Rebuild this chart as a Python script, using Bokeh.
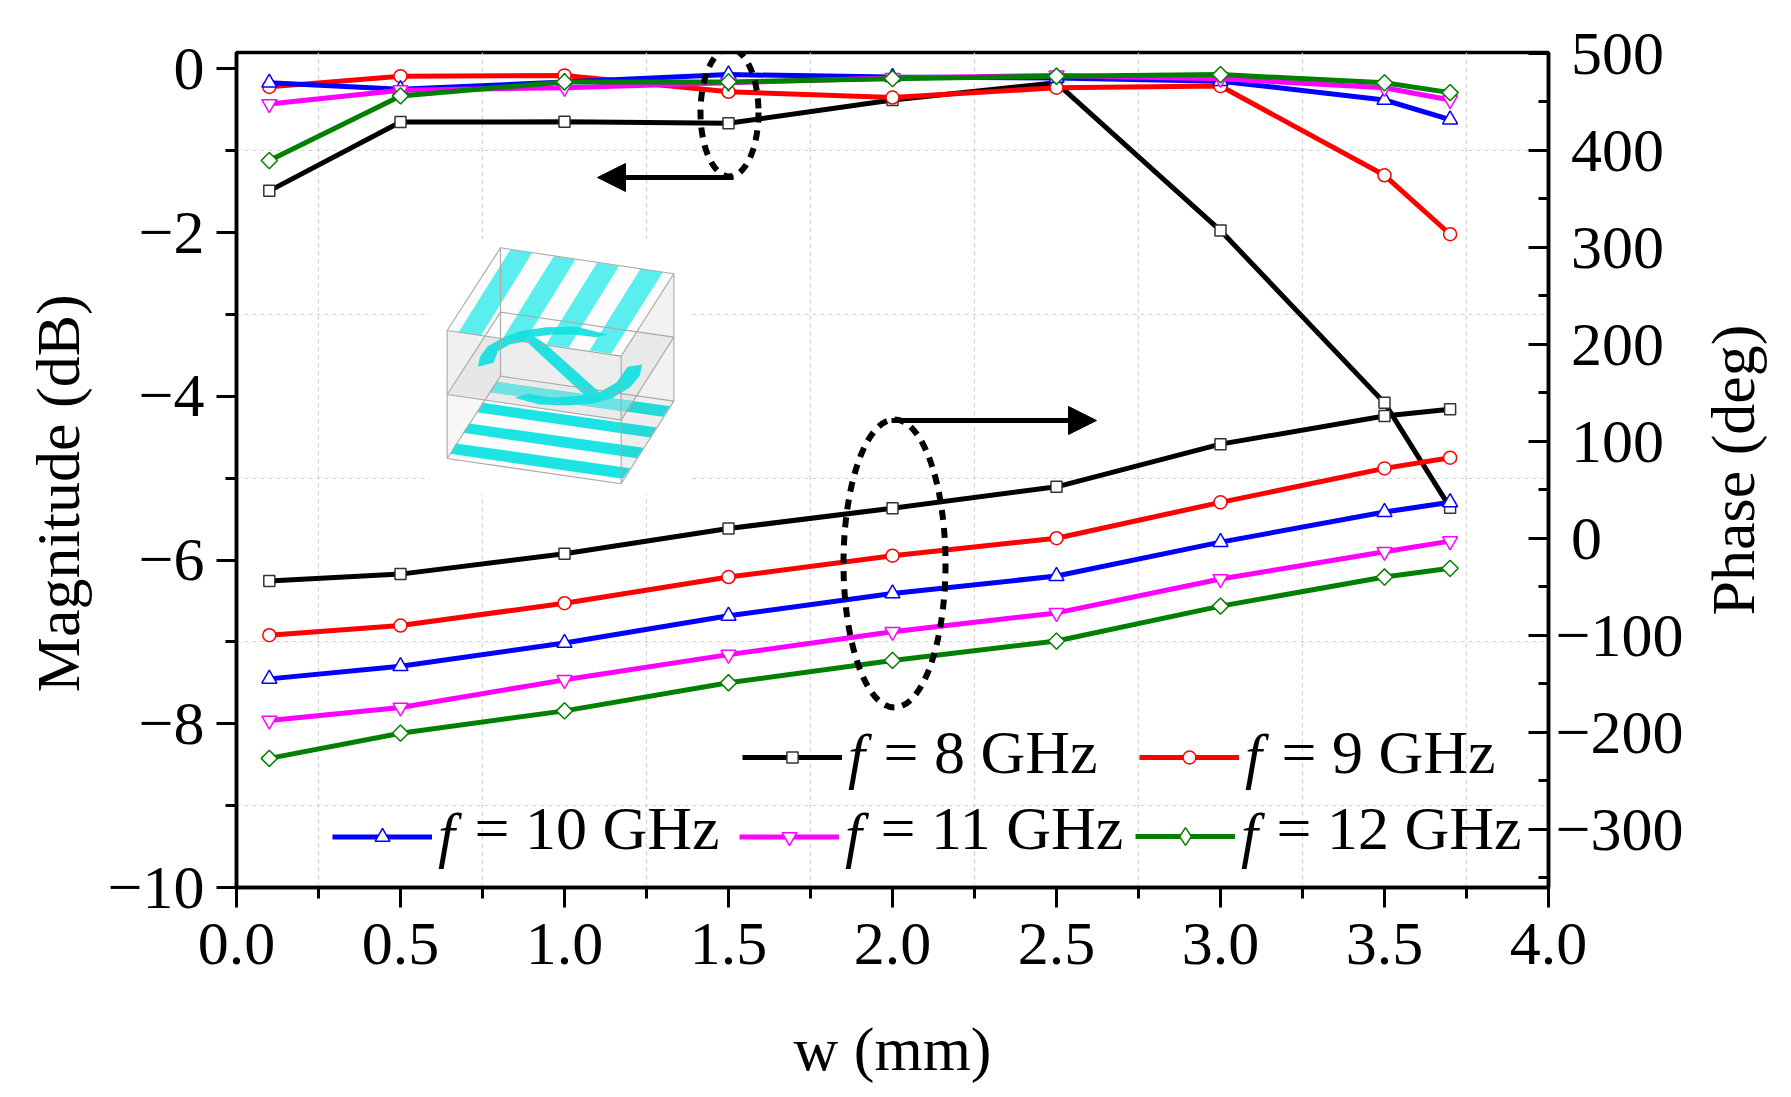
from bokeh.plotting import figure
from bokeh.embed import file_html
from bokeh.layouts import row
from bokeh.resources import INLINE
from bokeh.core.properties import value
from bokeh.models import (Range1d, LinearAxis, FixedTicker, NumeralTickFormatter, Label, Legend,
                          LegendItem, Arrow, NormalHead, Grid, Title)
import math

w_mm = [0.1, 0.5, 1.0, 1.5, 2.0, 2.5, 3.0, 3.5, 3.7]
mag_8 = [-1.49, -0.65, -0.647, -0.664, -0.38, -0.17, -1.975, -4.08, -5.36]
mag_9 = [-0.22, -0.09, -0.08, -0.28, -0.35, -0.23, -0.21, -1.30, -2.02]
mag_10 = [-0.17, -0.25, -0.16, -0.07, -0.10, -0.11, -0.15, -0.38, -0.62]
mag_11 = [-0.43, -0.26, -0.23, -0.17, -0.11, -0.08, -0.12, -0.23, -0.38]
mag_12 = [-1.12, -0.33, -0.16, -0.16, -0.12, -0.09, -0.07, -0.17, -0.29]
ph_8 = [-44, -37, -16, 10, 31, 53, 97, 126, 133]
ph_9 = [-100, -90, -67, -40, -18, 0, 37, 72, 83]
ph_10 = [-145, -132, -108, -80, -57, -39, -4, 27, 37]
ph_11 = [-188, -174.5, -146, -120, -96.5, -77, -42, -14, -3]
ph_12 = [-227, -201, -178, -149, -126, -106, -70, -40, -31]

series_names = ["= 8 GHz", "= 9 GHz", "= 10 GHz", "= 11 GHz", "= 12 GHz"]
series_colors = ["#000000", "#ff0000", "#0000ff", "#ff00ff", "#008000"]
edge_colors = ["#333333", "#ff0000", "#0000ff", "#ff00ff", "#008000"]
series_mark = ["square", "circle", "triangle", "inverted_triangle", "square"]
legend_mark = ["square", "circle", "triangle", "inverted_triangle", "diamond"]
series_size = [11, 13, 15, 15, 11.5]
series_angle = [0, 0, 0, 0, math.pi / 4]

x_ticks = [0.0, 0.5, 1.0, 1.5, 2.0, 2.5, 3.0, 3.5, 4.0]
x_minor = [0.25, 0.75, 1.25, 1.75, 2.25, 2.75, 3.25, 3.75]
left_ticks = [0, -2, -4, -6, -8, -10]
left_minor = [-1, -3, -5, -7, -9]
left_labels = {0: "0", -2: "\u22122", -4: "\u22124", -6: "\u22126", -8: "\u22128", -10: "\u221210"}
right_ticks = [500, 400, 300, 200, 100, 0, -100, -200, -300]
right_minor = [450, 350, 250, 150, 50, -50, -150, -250, -350]
right_labels = {500: "\u00a0500", 400: "\u00a0400", 300: "\u00a0300", 200: "\u00a0200", 100: "\u00a0100", 0: "\u00a00",
                -100: "\u2212100", -200: "\u2212200", -300: "\u2212300"}

FONT = "Liberation Serif"
p = figure(width=1691, height=1085, output_backend="svg", toolbar_location=None,
           x_range=Range1d(0, 4), y_range=Range1d(-10, 0.2),
           min_border_left=236, min_border_right=143, min_border_top=52, min_border_bottom=198,
           frame_width=1312, frame_height=835,
           x_axis_type=None, y_axis_type=None)
p.extra_y_ranges = {"phase": Range1d(-360.1, 500.8)}
p.outline_line_color = "black"
p.outline_line_width = 3.5
p.background_fill_color = "white"
p.border_fill_color = "white"


def style(ax, size="62px"):
    ax.major_label_text_font = FONT
    ax.major_label_text_font_size = size
    ax.major_label_text_color = "black"
    ax.axis_line_color = "black"
    ax.axis_line_width = 3.5
    ax.major_tick_line_color = "black"
    ax.minor_tick_line_color = "black"
    ax.major_tick_line_width = 3
    ax.minor_tick_line_width = 3
    ax.major_tick_in = 0
    ax.major_tick_out = 20
    ax.minor_tick_in = 0
    ax.minor_tick_out = 11
    ax.axis_label_text_font = FONT
    ax.axis_label_text_font_size = "62px"
    ax.axis_label_text_font_style = "normal"
    ax.axis_label_text_color = "black"


xa = LinearAxis(ticker=FixedTicker(ticks=x_ticks, minor_ticks=x_minor), formatter=NumeralTickFormatter(format="0.0"))
style(xa)
xa.major_label_standoff = 16
xa.axis_label = "w (mm)"
xa.axis_label_standoff = 48
p.add_layout(xa, "below")

ya = LinearAxis(ticker=FixedTicker(ticks=left_ticks, minor_ticks=left_minor), major_label_overrides=left_labels)
style(ya)
ya.major_label_standoff = 12
ya.axis_label = "Magnitude (dB)\u00a0\u00a0\u00a0"
ya.axis_label_standoff = 13
p.add_layout(ya, "left")

yb = LinearAxis(y_range_name="phase", ticker=FixedTicker(ticks=right_ticks, minor_ticks=right_minor),
                major_label_overrides=right_labels)
style(yb)
yb.major_tick_in = 20
yb.major_tick_out = 0
yb.minor_tick_in = 10
yb.minor_tick_out = 0
yb.major_label_standoff = 7
p.add_layout(yb, "right")

p.add_layout(Grid(dimension=0, ticker=FixedTicker(ticks=x_minor), grid_line_color="#d0d0d0",
                  grid_line_width=1.2, grid_line_dash="4 4"))
p.add_layout(Grid(dimension=1, ticker=FixedTicker(ticks=left_minor), grid_line_color="#d0d0d0",
                  grid_line_width=1.2, grid_line_dash="4 4"))


def X(px):
    return (px - 237) / 328.0


def Y(py):
    return (69.4 - py) / 81.86


def ix(v):
    return X(420 + v / 3)


def iy(v):
    return Y(230 + v / 3)


def draw_poly(pts, color, alpha=1.0, line=None, lw=1.0):
    p.patch([ix(a) for a, b in pts], [iy(b) for a, b in pts], fill_color=color, fill_alpha=alpha,
            line_color=line, line_width=lw)


# inset sketch of the unit cell (illustration, white panel hides the grid)
inset_panel = [(30, 30), (810, 30), (810, 795), (30, 795)]
floor = [(243, 440), (763, 515), (605, 763), (83, 687)]
floor_strips = [
    [(232, 457), (752, 530), (730, 562), (210, 488)],
    [(190, 520), (712, 594), (692, 624), (172, 548)],
    [(150, 582), (672, 655), (652, 686), (130, 610)],
    [(110, 642), (632, 716), (610, 748), (92, 673)],
]
shaded_strip = [(232, 457), (640, 515), (618, 547), (210, 488)]
left_face = [(83, 303), (243, 55), (243, 440), (83, 687)]
right_face = [(605, 380), (763, 133), (763, 515), (605, 763)]
front_face = [(83, 303), (605, 380), (605, 572), (83, 495)]
mid_plane = [(83, 495), (243, 248), (763, 323), (605, 572)]
top_face = [(243, 55), (763, 133), (605, 380), (83, 303)]
top_strips = [
    [(273, 60), (338, 70), (185, 318), (117, 308)],
    [(403, 80), (468, 90), (315, 336), (250, 326)],
    [(533, 100), (598, 110), (447, 355), (380, 345)],
    [(663, 118), (730, 128), (575, 373), (510, 363)],
]
anchor = [(175, 412), (182, 380), (205, 350), (250, 325), (300, 305), (380, 293), (470, 292), (565, 315), (530, 323),
          (470, 316), (400, 315), (345, 322), (380, 345), (540, 488), (590, 460), (615, 425), (625, 412), (668, 405),
          (660, 440), (630, 475), (580, 505), (520, 522), (440, 528), (360, 525), (285, 505), (325, 493), (400, 505),
          (495, 497), (320, 335), (270, 345), (235, 365), (222, 400)]
edges = [
    [(83, 303), (243, 55), (763, 133), (605, 380), (83, 303)],
    [(83, 495), (243, 248), (763, 323), (605, 572), (83, 495)],
    [(83, 687), (243, 440), (763, 515), (605, 763), (83, 687)],
    [(83, 303), (83, 687)], [(243, 55), (243, 440)], [(763, 133), (763, 515)], [(605, 380), (605, 763)],
]

draw_poly(inset_panel, "white")
draw_poly(floor, "#fbfbfb")
for s in floor_strips:
    draw_poly(s, "#1ce4e4")
draw_poly(left_face, "#808080", 0.07)
draw_poly(right_face, "#808080", 0.10)
draw_poly(mid_plane, "#c8c8c8", 0.22)
draw_poly(front_face, "#808080", 0.05)
draw_poly(shaded_strip, "#6fe2e2")
draw_poly(top_face, "#fbfbfb", 1.0)
for s in top_strips:
    draw_poly(s, "#5aeeee")
draw_poly(anchor, "#12dfdf", 0.92)
for e in edges:
    p.line([ix(a) for a, b in e], [iy(b) for a, b in e], line_color="#a8a8a8", line_width=1.1)

mags = [mag_8, mag_9, mag_10, mag_11, mag_12]
phases = [ph_8, ph_9, ph_10, ph_11, ph_12]
handles = []
for i in range(5):
    kw = dict(marker=series_mark[i], size=series_size[i], angle=series_angle[i], fill_color="white",
              line_color=edge_colors[i], line_width=1.5)
    l1 = p.line(w_mm, mags[i], line_color=series_colors[i], line_width=5)
    key = p.scatter(w_mm, mags[i], marker=legend_mark[i], size=0, fill_color="white",
                    line_color=edge_colors[i], line_width=1.5)
    p.scatter(w_mm, mags[i], **kw)
    p.line(w_mm, phases[i], line_color=series_colors[i], line_width=5, y_range_name="phase")
    p.scatter(w_mm, phases[i], y_range_name="phase", **kw)
    handles.append([l1, key])

# dashed ellipses and arrows
p.ellipse([X(730)], [Y(113)], width=58, height=128, width_units="screen", height_units="screen", angle=0,
          fill_alpha=0, line_color="black", line_width=6, line_dash="10 8")
p.ellipse([X(895)], [Y(564)], width=102, height=288, width_units="screen", height_units="screen", angle=0,
          fill_alpha=0, line_color="black", line_width=6, line_dash="10 8")
p.add_layout(Arrow(end=NormalHead(size=28, fill_color="black", line_color="black", line_width=1),
                   x_start=X(734), y_start=Y(178), x_end=X(598), y_end=Y(178), line_color="black", line_width=5))
p.add_layout(Arrow(end=NormalHead(size=28, fill_color="black", line_color="black", line_width=1),
                   x_start=X(892), y_start=Y(421), x_end=X(1097), y_end=Y(421), line_color="black", line_width=5))

# legend: line samples with the italic f, then the rest of the entry
leg_x = [743, 1140, 333, 740, 1136]
leg_line_y = [758, 758, 837, 837, 837]
leg_key_h = [28, 32, 37, 37, 44]
leg_text_x = [884, 1282, 475, 881, 1277]
leg_text_y = [753, 753, 829, 829, 829]
for i in range(5):
    lg = Legend(items=[LegendItem(label=value("f"), renderers=handles[i])],
                location=(leg_x[i] - 237, 888 - leg_line_y[i] - 35),
                orientation="horizontal", margin=0, padding=0, spacing=0,
                glyph_width=100, glyph_height=leg_key_h[i], label_standoff=6,
                label_text_font=FONT, label_text_font_size="61px", label_text_font_style="italic",
                label_text_color="black", background_fill_alpha=0, border_line_alpha=0)
    p.add_layout(lg)
    p.add_layout(Label(x=X(leg_text_x[i]), y=Y(leg_text_y[i]), text=series_names[i], text_font=FONT,
                       text_font_size="62px", text_color="black", text_baseline="alphabetic"))

# narrow companion panel carries the upward-reading right-hand axis title
p2 = figure(width=75, height=1085, output_backend="svg", toolbar_location=None,
            min_border_left=70, min_border_right=0, min_border_top=52, min_border_bottom=198,
            frame_width=5, frame_height=835, x_axis_type=None, y_axis_type=None, outline_line_color=None)
p2.grid.visible = False
p2.add_layout(Title(text="Phase (deg)", align="center", text_font=FONT, text_font_size="62px",
                    text_font_style="normal", text_color="black"), "left")

open("out.html", "w").write(file_html(row(p, p2, spacing=0), INLINE))
